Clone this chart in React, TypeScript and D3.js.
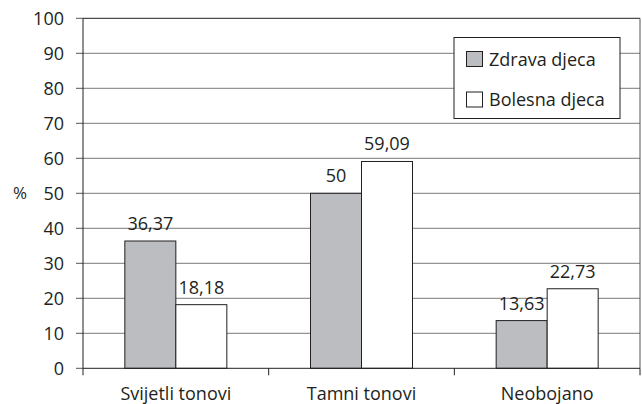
import React from "react";
import * as d3 from "d3";

const categories = ["Svijetli tonovi", "Tamni tonovi", "Neobojano"];
const seriesNames = ["Zdrava djeca", "Bolesna djeca"];
const zdravaDjeca = [36.37, 50, 13.63];
const bolesnaDjeca = [18.18, 59.09, 22.73];
const valueLabels = [
  ["36,37", "50", "13,63"],
  ["18,18", "59,09", "22,73"],
];
const yTicks = [0, 10, 20, 30, 40, 50, 60, 70, 80, 90, 100];

const W = 642;
const H = 404;
const margin = { left: 83, right: 2, top: 18.3, bottom: 35.7 };
const FONT = "'Open Sans', sans-serif";
const seriesColors = ["#bcbdc0", "#ffffff"];

export default function App() {
  const x = d3
    .scaleBand<string>()
    .domain(categories)
    .range([margin.left, W - margin.right])
    .paddingInner(0)
    .paddingOuter(0);
  const y = d3
    .scaleLinear()
    .domain([0, 100])
    .range([H - margin.bottom, margin.top]);

  const bw = 51;
  const series = [zdravaDjeca, bolesnaDjeca];
  const x0 = margin.left;
  const x1 = W - margin.right;
  const yBase = y(0);

  return (
    <svg
      width={W}
      height={H}
      style={{ position: "absolute", left: 0, top: 0, background: "#fff" }}
      fontFamily={FONT}
    >
      {/* gridlines + y ticks */}
      {yTicks.map((t) => (
        <g key={t}>
          {t > 0 && t < 100 && (
            <line x1={x0} x2={x1} y1={y(t)} y2={y(t)} stroke="#7a7a7a" strokeWidth={1} />
          )}
          <line x1={x0 - 7} x2={x0} y1={y(t)} y2={y(t)} stroke="#555" strokeWidth={1} />
          <text
            x={64}
            y={y(t)}
            dy="0.36em"
            textAnchor="end"
            fontSize={18}
            fill="#231f20"
          >
            {t}
          </text>
        </g>
      ))}
      <text x={20} y={y(50)} dy="0.36em" textAnchor="middle" fontSize={17} fill="#231f20">
        %
      </text>

      {/* plot frame */}
      <line x1={x0} x2={x1} y1={y(100)} y2={y(100)} stroke="#231f20" strokeWidth={1} />
      <line x1={x1} x2={x1} y1={y(100)} y2={yBase} stroke="#555" strokeWidth={1} />

      {/* bars */}
      {categories.map((c, ci) => {
        const cx = (x(c) as number) + x.bandwidth() / 2;
        return (
          <g key={c}>
            {series.map((vals, si) => {
              const bx = cx - bw + si * bw;
              const by = y(vals[ci]);
              return (
                <g key={si}>
                  <rect
                    x={bx}
                    y={by}
                    width={bw}
                    height={yBase - by}
                    fill={seriesColors[si]}
                    stroke="#231f20"
                    strokeWidth={1}
                  />
                  <text
                    x={bx + bw / 2}
                    y={by - 11}
                    textAnchor="middle"
                    fontSize={18}
                    fill="#231f20"
                  >
                    {valueLabels[si][ci]}
                  </text>
                </g>
              );
            })}
            <text x={cx} y={400} textAnchor="middle" fontSize={18} fill="#231f20">
              {c}
            </text>
          </g>
        );
      })}

      {/* axes */}
      <line x1={x0} x2={x0} y1={y(100)} y2={yBase} stroke="#231f20" strokeWidth={1} />
      <line x1={x0} x2={x1} y1={yBase} y2={yBase} stroke="#231f20" strokeWidth={1} />
      {[0, 1, 2, 3].map((i) => {
        const tx = x0 + i * x.bandwidth();
        return (
          <line key={i} x1={tx} x2={tx} y1={yBase} y2={yBase + 7} stroke="#231f20" strokeWidth={1} />
        );
      })}

      {/* legend */}
      <g>
        <rect x={454} y={37.5} width={166} height={81} fill="#fff" stroke="#231f20" strokeWidth={1} />
        {seriesNames.map((n, i) => (
          <g key={n}>
            <rect
              x={466.5}
              y={51.5 + i * 40.5}
              width={16}
              height={15}
              fill={seriesColors[i]}
              stroke="#231f20"
              strokeWidth={1}
            />
            <text x={489} y={65.5 + i * 40.5} fontSize={18} fill="#231f20">
              {n}
            </text>
          </g>
        ))}
      </g>
    </svg>
  );
}
